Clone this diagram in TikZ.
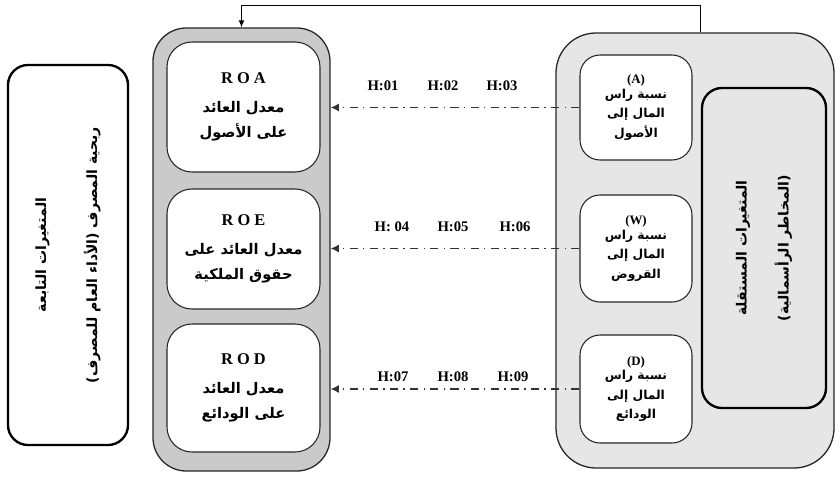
\documentclass[tikz,border=0pt]{standalone}
\usepackage{fontspec}
\setmainfont{Liberation Serif}
\newfontfamily\arabicfont[Script=Arabic]{DejaVu Sans}
\TeXXeTstate=1
\usetikzlibrary{arrows.meta}
\definecolor{panelgray}{HTML}{CACACA}
\definecolor{lightpanel}{HTML}{E6E6E6}
\newcommand{\arline}[1]{{\arabicfont\bfseries\beginR #1\endR}}

\begin{document}
\begin{tikzpicture}[x=0.03cm,y=-0.03cm,
    outerpanel/.style={draw=black!85,line width=1.1pt,rounded corners=1cm},
    whitebox/.style={draw=black!85,fill=white,line width=0.9pt,rounded corners=0.75cm,
        minimum width=4.59cm,align=center,font=\fontsize{12.5}{21}\selectfont},
    smallbox/.style={draw=black!85,fill=white,line width=0.9pt,rounded corners=0.6cm,
        minimum width=3.36cm,align=center,font=\fontsize{10.5}{16.5}\selectfont},
    textbox/.style={draw=black,line width=2pt,rounded corners=0.6cm,rotate=90,
        align=center,font=\fontsize{12}{14}\selectfont},
    hyplabel/.style={font=\bfseries\fontsize{12.5}{14}\selectfont},
    hyparrow/.style={line width=1.6pt,black!80,dash pattern=on 7pt off 4.5pt on 1.2pt off 4.5pt,
        -{Latex[length=7pt,width=7pt]}}]
  \useasboundingbox (0,0) rectangle (840,477);
  % dependent side
  \node[textbox,minimum width=11.4cm,minimum height=3.6cm] (dep) at (68,255)
       {\arline{المتغيرات التابعة}\\[1cm]\arline{ربحية المصرف (الأداء العام للمصرف)}};
  \node[outerpanel,fill=panelgray,minimum width=5.31cm,minimum height=13.29cm] (lpanel) at (241.5,249.5){};
  \node[whitebox,minimum height=3.9cm] (roa) at (243.5,107)
       {{\bfseries\fontsize{14}{16}\selectfont R O A}\\[4pt]\arline{معدل العائد}\\\arline{على الأصول}};
  \node[whitebox,minimum height=3.6cm] (roe) at (243.5,249)
       {{\bfseries\fontsize{14}{16}\selectfont R O E}\\[4pt]\arline{معدل العائد على}\\\arline{حقوق الملكية}};
  \node[whitebox,minimum height=3.84cm] (rod) at (243.5,388)
       {{\bfseries\fontsize{14}{16}\selectfont R O D}\\[4pt]\arline{معدل العائد}\\\arline{على الودائع}};
  % independent side
  \node[outerpanel,fill=lightpanel,rounded corners=1.2cm,minimum width=8.34cm,minimum height=13.05cm] (rpanel) at (695,250.5){};
  \node[smallbox,minimum height=3.15cm] (capa) at (636,107.5)
       {{\bfseries\fontsize{11}{13}\selectfont (A)}\\[-4pt]\arline{نسبة راس}\\\arline{المال إلى}\\\arline{الأصول}};
  \node[smallbox,minimum height=3.21cm] (capw) at (636,248.5)
       {{\bfseries\fontsize{11}{13}\selectfont (W)}\\[-4pt]\arline{نسبة راس}\\\arline{المال إلى}\\\arline{القروض}};
  \node[smallbox,minimum height=3.24cm] (capd) at (636,389)
       {{\bfseries\fontsize{11}{13}\selectfont (D)}\\[-4pt]\arline{نسبة راس}\\\arline{المال إلى}\\\arline{الودائع}};
  \node[textbox,minimum width=9.6cm,minimum height=3.72cm] (indep) at (764,248)
       {\arline{المتغيرات المستقلة}\\[0.7cm]\arline{(المخاطر الرأسمالية)}};
  % hypotheses
  \draw[hyparrow] (capa.west) -- (capa.west -| lpanel.east);
  \draw[hyparrow] (capw.west) -- (capw.west -| lpanel.east);
  \draw[hyparrow] (capd.west) -- (capd.west -| lpanel.east);
  \node[hyplabel] (h1) at (383,86){H:01};
  \node[hyplabel] (h2) at (443,86){H:02};
  \node[hyplabel] (h3) at (502,86){H:03};
  \node[hyplabel] (h4) at (392,227){H: 04};
  \node[hyplabel] (h5) at (453,227){H:05};
  \node[hyplabel] (h6) at (515,227){H:06};
  \node[hyplabel] (h7) at (393,377){H:07};
  \node[hyplabel] (h8) at (453,377){H:08};
  \node[hyplabel] (h9) at (513,377){H:09};
  % feedback line on top
  \draw[line width=0.8pt,-{Latex[length=6pt,width=5pt]}] ([xshift=0.15cm]rpanel.north) -- ++(0,-27) -| (lpanel.north);
\end{tikzpicture}
\end{document}
